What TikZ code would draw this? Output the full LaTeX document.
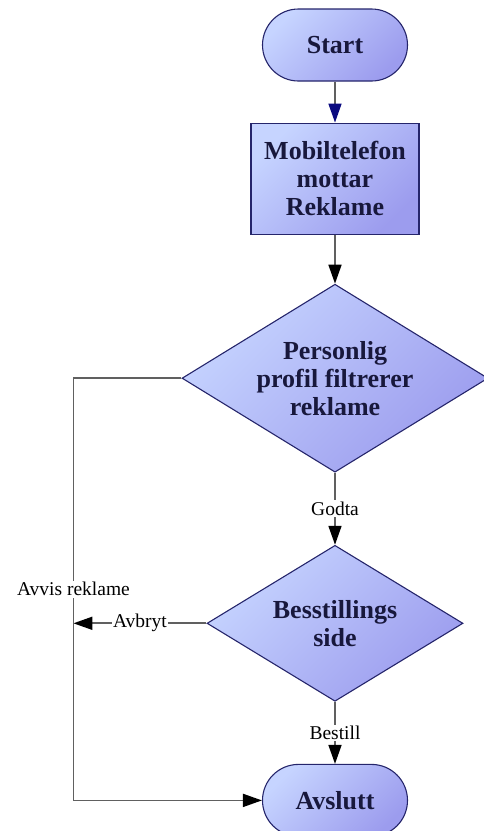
\documentclass[tikz,border=0pt]{standalone}
\usepackage{fontspec}
\setmainfont{Liberation Serif}
\usetikzlibrary{positioning,shapes.geometric,arrows.meta}

\definecolor{boxlight}{HTML}{C6D4FF}
\definecolor{boxdark}{HTML}{9C9CEE}
\definecolor{boxline}{HTML}{25256B}
\definecolor{boxtext}{HTML}{18183C}
\definecolor{wire}{HTML}{606060}
\definecolor{navytip}{HTML}{0A0A80}

\begin{document}
\begin{tikzpicture}[
  box/.style={draw=boxline, line width=1.1pt, top color=boxlight, bottom color=boxdark, shading angle=45, align=center, inner sep=0pt, text=boxtext, font=\fontsize{26}{28}\selectfont\bfseries},
  terminal/.style={box, rectangle, rounded corners=36pt, minimum width=145pt, minimum height=72pt},
  process/.style={box, rectangle, minimum width=168pt, minimum height=111pt},
  decision/.style={box, diamond, aspect=1.63},
  flow/.style={draw=wire, line width=1.7pt, -{Triangle[length=19pt,width=13pt,color=black]}},
  lbl/.style={fill=white, inner sep=1.5pt, text=black, font=\fontsize{19.5}{22}\selectfont}]
\useasboundingbox (0,0) rectangle (484pt,-831pt);

\node (start) [terminal] at (335pt,-45pt) {Start};
\node (phone) [process, below=41pt of start] {Mobiltelefon\\mottar\\Reklame};
\node (filter) [decision, below=49pt of phone, minimum width=306pt, minimum height=188pt] {Personlig\\profil filtrerer\\reklame};
\node (order) [decision, below=72pt of filter, minimum width=256pt, minimum height=156pt] {Besstillings\\side};
\node (finish) [terminal, below=62pt of order] {Avslutt};
\coordinate [left=108pt of filter.west] (rail);

\draw[flow, -{Triangle[length=19pt,width=13pt,color=navytip]}] (start) -- (phone);
\draw[flow] (phone) -- (filter);
\draw[flow] (filter) -- node[lbl] {Godta} (order);
\draw[flow] (order) -- node[lbl] {Bestill} (finish);
\draw[flow] (order.west) -- node[lbl] {Avbryt} (order.west -| rail);
\draw[flow] (filter.west) -- (rail) |- node[lbl, pos=0.25] {Avvis reklame} (finish.west);
\end{tikzpicture}
\end{document}
